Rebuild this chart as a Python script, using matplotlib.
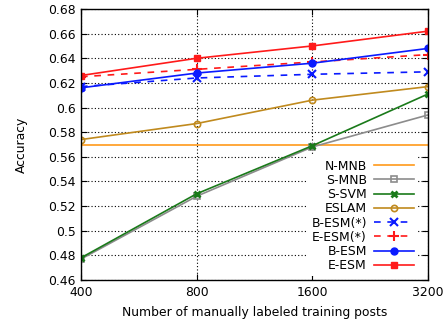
import matplotlib
matplotlib.use('Agg')
import matplotlib.pyplot as plt

# training set sizes
sizes = [400, 800, 1600, 3200]

n_mnb = [0.570, 0.570, 0.570, 0.570]
s_mnb = [0.477, 0.528, 0.568, 0.594]
s_svm = [0.478, 0.530, 0.569, 0.611]
eslam = [0.574, 0.587, 0.606, 0.617]
b_esm_star = [0.617, 0.624, 0.627, 0.629]
e_esm_star = [0.625, 0.631, 0.637, 0.643]
b_esm = [0.616, 0.628, 0.636, 0.648]
e_esm = [0.626, 0.640, 0.650, 0.662]

yticks = [0.46, 0.48, 0.5, 0.52, 0.54, 0.56, 0.58, 0.6, 0.62, 0.64, 0.66, 0.68]
ytick_labels = ['0.46', '0.48', '0.5', '0.52', '0.54', '0.56', '0.58', '0.6',
                '0.62', '0.64', '0.66', '0.68']

plt.rcParams['font.family'] = 'DejaVu Sans'
plt.rcParams['font.size'] = 8.9

fig = plt.figure(figsize=(4.46, 3.27), dpi=100)
ax = fig.add_axes([0.1816, 0.1437, 0.778, 0.8288])

ms = 4.5
lw = 1.2
ax.plot(sizes, n_mnb, color='#ff9a1a', lw=lw, label='N-MNB')
ax.plot(sizes, s_mnb, color='#8c8c8c', lw=lw, marker='s', ms=ms, mfc='none', mew=1.2, label='S-MNB')
ax.plot(sizes, s_svm, color='#1a7a1a', lw=lw, marker='x', ms=ms, mew=2, label='S-SVM')
ax.plot(sizes, eslam, color='#c08a1e', lw=lw, marker='o', ms=ms, mfc='none', mew=1.2, label='ESLAM')
ax.plot(sizes, b_esm_star, color='#0a1aff', lw=lw, ls=(0, (4, 4)), marker='x', ms=ms + 1, mew=1.5, label='B-ESM(*)')
ax.plot(sizes, e_esm_star, color='#ff1a1a', lw=lw, ls=(0, (4, 4)), marker='+', ms=ms + 2, mew=1.5, label='E-ESM(*)')
ax.plot(sizes, b_esm, color='#0a1aff', lw=lw, marker='o', ms=ms + 0.5, label='B-ESM')
ax.plot(sizes, e_esm, color='#ff1a1a', lw=lw, marker='s', ms=ms, label='E-ESM')

ax.set_xscale('log', base=2)
ax.set_xlim(400, 3200)
ax.set_xticks(sizes)
ax.set_xticklabels([str(s) for s in sizes])
ax.minorticks_off()
ax.set_ylim(0.46, 0.68)
ax.set_yticks(yticks)
ax.set_yticklabels(ytick_labels)

ax.grid(True, color='black', ls=(0, (1, 2)), lw=0.8)
ax.tick_params(direction='in', top=True, right=True, length=4, pad=4)
for s in ax.spines.values():
    s.set_linewidth(1.0)

ax.set_xlabel('Number of manually labeled training posts', labelpad=5)
ax.set_ylabel('Accuracy', labelpad=14)

leg = ax.legend(loc='lower right', markerfirst=False, frameon=True, framealpha=1,
                edgecolor='none', fancybox=False, handlelength=3.2, labelspacing=0.1,
                borderpad=0.3, handletextpad=0.6, borderaxespad=0,
                bbox_to_anchor=(0.97, 0.015))
for t in leg.get_texts():
    t.set_ha('right')

fig.savefig('out.png', dpi=100)
